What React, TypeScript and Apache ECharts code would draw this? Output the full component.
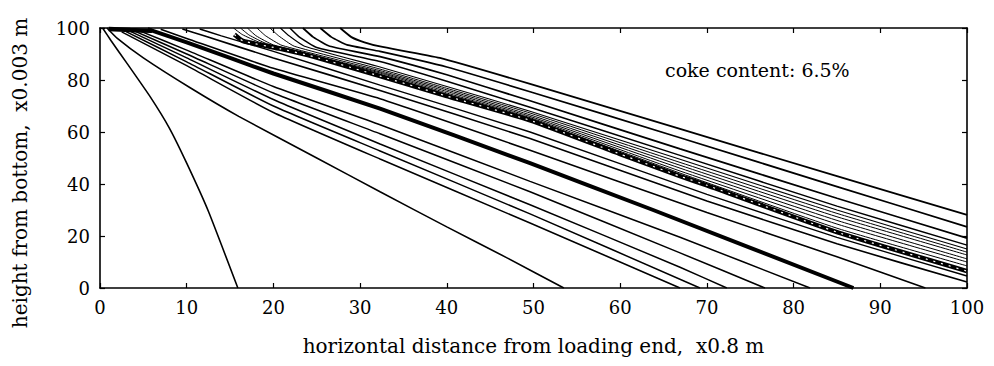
import React, { useEffect, useRef } from "react";
import * as echarts from "echarts";

// Axis ranges (data units)
const xMin = 0, xMax = 100, xStep = 10;
const yMin = 0, yMax = 100, yStep = 20;

const xAxisTitle = "horizontal distance from loading end,  x0.8 m";
const yAxisTitle = "height from bottom,  x0.003 m";
const noteText = "coke content: 6.5%";

// Lines ending on the bottom edge
const steepLine = [[0.3, 100], [1.3, 95], [3.2, 86], [5.8, 73.5], [8, 61.5], [10, 48], [12.5, 29.5], [15.9, 0]];
const wavyLine = [[0.8, 100], [2, 96], [5, 88.5], [10.4, 77], [16, 66], [25, 50], [32.3, 37], [40, 23.5], [47, 11.5], [53.5, 0]];
const line669 = [[2.5, 98.5], [10, 85.5], [20, 67.5], [32.3, 49.6], [49.6, 25], [66.9, 0]];
const line692 = [[3, 98.6], [10, 87], [20, 70], [32.3, 52.7], [49.6, 28.5], [69.2, 0]];
const line723 = [[3.5, 98.7], [10, 88.5], [20, 72.5], [32.3, 55.4], [49.6, 32], [66.9, 8], [72.3, 0]];
const line767 = [[4, 98.8], [10, 90], [20, 75], [32.3, 59.3], [49.6, 37], [66.9, 13.5], [76.7, 0]];
const line819 = [[4.5, 99], [10, 91.5], [20, 77.5], [32.3, 62.8], [49.6, 41], [66.9, 19.5], [81.9, 0]];
const thickLine = [[5.5, 99.6], [10, 94.5], [20, 82.5], [32.3, 69], [49.6, 48], [63.8, 30], [86.9, 0]];
const line952 = [[7, 99.5], [10, 96], [20, 84.5], [32.3, 72.8], [49.6, 53], [70, 29], [85, 12], [95.2, 0]];

// Lines ending on the right edge, below the front
const lineR23 = [[9.5, 99.6], [12, 97], [20, 88.5], [32.3, 76], [49.6, 57.5], [70, 33.5], [85, 17], [100, 2.3]];
const lineR46 = [[11.5, 99.6], [14, 97], [20, 91], [32.3, 78], [49.6, 60], [70, 36], [85, 19.5], [100, 4.6]];

// The dense front band
const frontBand = [[15.5, 97.5], [16.5, 95], [20.8, 92], [24.6, 89], [32.3, 81.5], [40, 73.8], [49.6, 64.5], [60, 51.5], [66.9, 43], [70, 39.5], [85, 21.5], [100, 6.5]];

// Thin lines packed above the front
const thin85 = [[15.4, 100], [16.4, 97.5], [18.4, 94.5], [32.3, 82.2], [40, 74.5], [49.6, 65], [66.9, 44.2], [85, 23], [100, 8.5]];
const thin100 = [[16.2, 100], [17.2, 97.3], [19.2, 94], [32.3, 82.7], [40, 75], [49.6, 65.5], [66.9, 45], [85, 24.6], [100, 10]];
const thin112 = [[17, 100], [18, 97], [20, 93.5], [32.3, 83.1], [40, 75.6], [49.6, 66], [66.9, 46.1], [85, 26], [100, 11.2]];
const thin127 = [[18.1, 100], [19.1, 97], [21, 93.3], [32.3, 83.6], [40, 76.2], [49.6, 66.6], [66.9, 47.2], [85, 27.4], [100, 12.7]];
const thin138 = [[19.6, 100], [20.6, 97], [22.4, 93], [32.3, 84.2], [40, 76.8], [49.6, 67.3], [66.9, 48.3], [85, 28.7], [100, 13.8]];
const thin150 = [[20.8, 100], [21.8, 97], [23.6, 93], [32.3, 85], [40, 77.5], [49.6, 68], [66.9, 49.5], [85, 30], [100, 15]];

// Upper lines ending on the right edge
const upper165 = [[21.9, 100], [23, 96.5], [25, 92.5], [32.3, 87.1], [40, 79.5], [49.6, 69.5], [66.9, 51], [85, 31.5], [100, 16.5]];
const upper192 = [[23.4, 100], [24.6, 96.5], [26.5, 93], [32.3, 89], [40, 82], [49.6, 72], [66.9, 53.5], [85, 34.5], [100, 19.2]];
const upper235 = [[25.4, 100], [26.7, 96.5], [28.5, 93.5], [32.3, 91], [40, 85], [49.6, 75.5], [66.9, 57.8], [85, 39], [100, 23.5]];
const upper281 = [[27.7, 100], [29, 96.5], [30.5, 94.5], [32.3, 92.9], [39.2, 88.5], [49.6, 78.5], [66.9, 61.2], [85, 43], [100, 28.1]];

// Dark wedge where the lines meet the top-left corner
const cornerWedge = [[1, 99.6], [3.5, 99.2], [6, 98.9]];

const FONT = "DejaVu Serif";

function lineSeries(data: number[][], width: number, color = "#000", dash: any = "solid", z = 2) {
  return {
    type: "line",
    data,
    showSymbol: false,
    symbol: "none",
    smooth: 0.15,
    clip: true,
    silent: true,
    xAxisIndex: 0,
    yAxisIndex: 0,
    lineStyle: { color, width, type: dash },
    z,
  };
}

export default function App() {
  const ref = useRef<HTMLDivElement>(null);
  useEffect(() => {
    if (!ref.current) return;
    const chart = echarts.init(ref.current, undefined, { renderer: "svg" });
    const axisLine = { show: true, onZero: false, lineStyle: { color: "#000", width: 1.6 } };
    const tick = { show: true, inside: true, length: 5, lineStyle: { color: "#000", width: 1.2 } };
    const series: any[] = [
      lineSeries(steepLine, 1.6),
      lineSeries(wavyLine, 1.6),
      lineSeries(line669, 1.5),
      lineSeries(line692, 1.5),
      lineSeries(line723, 1.5),
      lineSeries(line767, 1.5),
      lineSeries(line819, 1.5),
      lineSeries(thickLine, 4),
      lineSeries(line952, 1.6),
      lineSeries(lineR23, 1.6),
      lineSeries(lineR46, 1.4),
      lineSeries(thin85, 1),
      lineSeries(thin100, 1),
      lineSeries(thin112, 1),
      lineSeries(thin127, 1),
      lineSeries(thin138, 1),
      lineSeries(thin150, 1.1),
      lineSeries(upper165, 1.5),
      lineSeries(upper192, 1.7),
      lineSeries(upper235, 1.7),
      lineSeries(upper281, 1.8),
      lineSeries(frontBand, 4.5, "#000", "solid", 3),
      lineSeries(frontBand, 1.2, "#fff", [2, 6], 4),
      lineSeries(cornerWedge, 4.5),
    ];
    chart.setOption({
      animation: false,
      backgroundColor: "#fff",
      grid: { left: 100, right: 27, top: 28, bottom: 78, containLabel: false },
      xAxis: [
        {
          type: "value", min: xMin, max: xMax, interval: xStep, position: "bottom",
          axisLine, axisTick: tick,
          axisLabel: { color: "#000", fontFamily: FONT, fontSize: 18, margin: 10 },
          splitLine: { show: false },
          name: xAxisTitle, nameLocation: "middle", nameGap: 48,
          nameTextStyle: { color: "#000", fontFamily: FONT, fontSize: 20 },
        },
        {
          type: "value", min: xMin, max: xMax, interval: xStep, position: "top",
          axisLine, axisTick: tick, axisLabel: { show: false }, splitLine: { show: false },
        },
      ],
      yAxis: [
        {
          type: "value", min: yMin, max: yMax, interval: yStep, position: "left",
          axisLine, axisTick: tick,
          axisLabel: { color: "#000", fontFamily: FONT, fontSize: 18, margin: 10 },
          splitLine: { show: false },
        },
        {
          type: "value", min: yMin, max: yMax, interval: yStep, position: "right",
          axisLine, axisTick: tick, axisLabel: { show: false }, splitLine: { show: false },
        },
      ],
      graphic: [
        {
          type: "text", x: 20, y: 173, rotation: Math.PI / 2,
          style: {
            text: yAxisTitle, font: `20px "${FONT}"`, fill: "#000",
            textAlign: "center", textVerticalAlign: "middle", align: "center", verticalAlign: "middle",
          },
        },
        {
          type: "text", x: 665, y: 70,
          style: {
            text: noteText, font: `19px "${FONT}"`, fill: "#000",
            textAlign: "left", textVerticalAlign: "middle", align: "left", verticalAlign: "middle",
          },
        },
      ],
      series,
    });
    return () => chart.dispose();
  }, []);
  return (
    <div
      ref={ref}
      style={{ position: "absolute", left: 0, top: 0, width: 994, height: 366, background: "#fff" }}
    />
  );
}
